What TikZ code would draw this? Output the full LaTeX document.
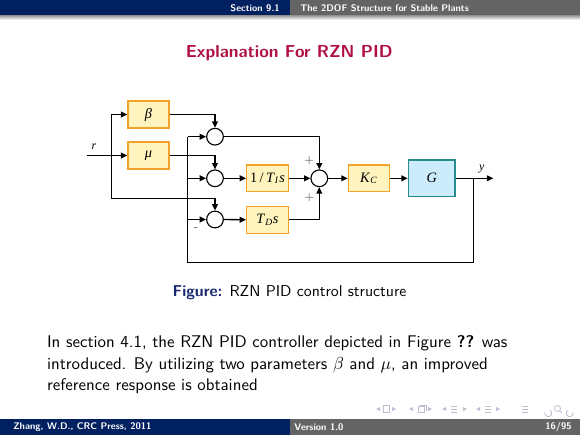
\documentclass[tikz,border=0pt]{standalone}
\usepackage{fontspec}
\newfontfamily\tms{Liberation Serif}
\usetikzlibrary{arrows.meta}
\definecolor{bblue}{RGB}{0,32,96}
\definecolor{bgray}{RGB}{100,100,100}
\definecolor{ttl}{RGB}{176,16,66}
\definecolor{figblue}{RGB}{24,40,110}
\definecolor{boxfill}{RGB}{255,244,190}
\definecolor{boxdraw}{RGB}{242,162,40}
\definecolor{gfill}{RGB}{204,236,252}
\definecolor{gdraw}{RGB}{40,140,140}
\definecolor{navc}{RGB}{190,190,208}
\begin{document}
\begin{tikzpicture}[x=0.62791pt,y=-0.62791pt,
  ln/.style={draw=black,line width=0.85pt},
  arr/.style={ln,-{Triangle[length=4pt,width=3.6pt]}},
  blk/.style={draw=boxdraw,fill=boxfill,line width=0.8pt,minimum width=25.8pt,minimum height=16.8pt,inner sep=0pt,font=\tms\fontsize{9}{10}\selectfont},
  gblk/.style={draw=gdraw,fill=gfill,line width=0.8pt,minimum width=29.3pt,minimum height=23pt,inner sep=0pt,font=\tms\fontsize{9}{10}\selectfont},
  sumc/.style={circle,draw=black,fill=white,line width=0.7pt,minimum size=10.5pt,inner sep=0pt},
  lbl/.style={font=\tms\itshape\fontsize{7.5}{8}\selectfont,inner sep=0pt},
  sgn/.style={font=\fontsize{7}{8}\selectfont,inner sep=0pt,text=black!70},
  hd/.style={font=\sffamily\bfseries\fontsize{6}{7}\selectfont,text=white,inner sep=0pt},
  navd/.style={draw=navc,line width=0.5pt},
  navf/.style={fill=navc}]
\useasboundingbox (0,0) rectangle (580,435);
% header
\fill[bblue] (0,0) rectangle (290,16);
\fill[bgray] (290,0) rectangle (580,16);
\shade[top color=black!35,bottom color=white] (0,16) rectangle (580,20);
\node[hd,anchor=east] (sec) at (280,8.5) {Section 9.1};
\node[hd,anchor=west] (sub) at (300,8.5) {The 2DOF Structure for Stable Plants};
% footer
\fill[bblue] (0,419) rectangle (290,435);
\fill[bgray] (290,419) rectangle (580,435);
\node[hd,anchor=west] (auth) at (13,427.5) {Zhang, W.D., CRC Press, 2011};
\node[hd,anchor=west] (ver) at (294,427.5) {Version 1.0};
\node[hd,anchor=east] (pg) at (572,427.5) {16/95};
% navigation symbols
\fill[navc] (376,409) -- (380,407) -- (380,411) -- cycle;
\draw[navd] (383,405.5) rectangle (389,412.5);
\fill[navc] (396,409) -- (392,407) -- (392,411) -- cycle;
\fill[navc] (409,409) -- (413,407) -- (413,411) -- cycle;
\draw[navd] (418,406.5) rectangle (424,412.5);
\draw[navd] (420,405) -- (426,405) -- (426,411);
\fill[navc] (432,409) -- (428,407) -- (428,411) -- cycle;
\fill[navc] (442,409) -- (446,407) -- (446,411) -- cycle;
\draw[navd] (451,406) -- (457,406) (451,409) -- (457,409) (451,412) -- (457,412);
\fill[navc] (467,409) -- (463,407) -- (463,411) -- cycle;
\fill[navc] (476,409) -- (480,407) -- (480,411) -- cycle;
\draw[navd] (485,406) -- (491,406) (485,409) -- (491,409) (485,412) -- (491,412);
\fill[navc] (500,409) -- (496,407) -- (496,411) -- cycle;
\draw[navd] (522,406) -- (528,406) (522,409) -- (528,409) (522,412) -- (528,412);
\draw[navd] (545,412) arc (200:-60:3.5);
\draw[navd] (557.5,408.5) circle (3);
\draw[navd] (559.6,410.6) -- (562,413);
\draw[navd] (573,412) arc (-20:240:3.5);
% title
\node[font=\sffamily\bfseries\fontsize{10.9}{13}\selectfont,text=ttl,anchor=base,inner sep=0pt] (title) at (289.2,58) {Explanation For RZN PID};
% diagram blocks
\node[blk] (beta) at (148.5,114.5) {\itshape β};
\node[blk] (mu) at (148.5,155.5) {\itshape μ};
\node[sumc] (s1) at (215,136.7) {};
\node[sumc] (s2) at (215,178.3) {};
\node[sumc] (s3) at (215,219.5) {};
\node[blk,minimum width=26.1pt] (ti) at (267.5,178.3) {1\,/\,\textit{T}\textsubscript{\textit{I}}\textit{s}};
\node[blk,minimum width=26.1pt] (td) at (267.5,219.8) {\textit{T}\textsubscript{\textit{D}}\textit{s}};
\node[sumc] (s4) at (319.3,178.3) {};
\node[blk] (kc) at (368.8,178.3) {\textit{K}\textsubscript{\textit{C}}};
\node[gblk] (g) at (431.7,178.3) {\textit{G}};
% coordinates
\coordinate (rin) at (86.7,155.5);
\coordinate (br) at (111.7,155.5);
\coordinate (rb) at (111.7,198.7);
\coordinate (f1) at (187.7,136.7);
\coordinate (f2) at (187.7,178.3);
\coordinate (f3) at (187.7,219.5);
\coordinate (fb) at (187.7,262.7);
\coordinate (fr) at (473.3,262.7);
\coordinate (yb) at (473.3,178.3);
\coordinate (yout) at (493.3,178.3);
% connectors
\draw[arr] (rin) -- (mu.west);
\draw[arr] (br) |- (beta.west);
\draw[arr] (br) -- (rb) -| (s3.north);
\draw[arr] (beta.east) -| (s1.north);
\draw[arr] (mu.east) -| (s2.north);
\draw[ln] (f1) -- (fb) -- (fr) -- (yb);
\draw[arr] (f1) -- (s1.west);
\draw[arr] (f2) -- (s2.west);
\draw[arr] (f3) -- (s3.west);
\draw[arr] (s2.east) -- (ti.west);
\draw[arr] (s3.east) -- (td.west);
\draw[arr] (s1.east) -| (s4.north);
\draw[arr] (td.east) -| (s4.south);
\draw[arr] (ti.east) -- (s4.west);
\draw[arr] (s4.east) -- (kc.west);
\draw[arr] (kc.east) -- (g.west);
\draw[arr] (g.east) -- (yout);
% labels
\node[lbl] (rl) at (94,146.5) {r};
\node[lbl] (yl) at (481.7,169) {y};
\node[sgn] (p1) at (309.3,161) {+};
\node[sgn] (p2) at (309.3,197.7) {+};
\node[sgn] (m1) at (196,229) {-};
% caption
\node[font=\sffamily\fontsize{9.9}{12}\selectfont,anchor=base west,inner sep=0pt] (cap) at (172.3,296) {{\color{figblue}\bfseries Figure:} RZN PID control structure};
% paragraph
\begin{scope}[every node/.style={font=\sffamily\fontsize{10.6}{13}\selectfont,anchor=base west,inner sep=0pt}]
\node (t1) at (46.7,347.5) {In section 4.1, the RZN PID controller depicted in Figure \textbf{??} was};
\node (t2) at (46.7,369) {introduced. By utilizing two parameters $\beta$ and $\mu$, an improved};
\node (t3) at (46.7,390.5) {reference response is obtained};
\end{scope}
\end{tikzpicture}
\end{document}
